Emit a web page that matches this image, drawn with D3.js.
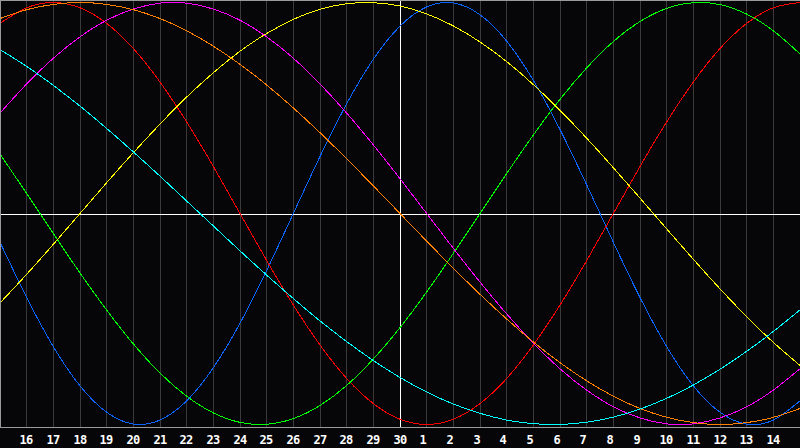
<!DOCTYPE html>
<html>
<head>
<meta charset="utf-8">
<script src="https://cdn.jsdelivr.net/npm/d3@7"></script>
<style>
  html, body { margin: 0; padding: 0; background: #060608; }
  svg { display: block; }
</style>
</head>
<body>
<svg id="chart" width="800" height="448"></svg>
<script>
// Day labels for each column index (t = 0..30)
const days = ["15","16","17","18","19","20","21","22","23","24","25","26","27","28","29","30",
              "1","2","3","4","5","6","7","8","9","10","11","12","13","14","15"];
// Tick labels shown under the chart (t = 1..29)
const tickLabels = days.slice(1, 30);

// Cycle names and colours
const cycleNames = ["Physical","Emotional","Intellectual","Intuitive","Aesthetic","Awareness","Spiritual"];
const cycleColors = ["#0a64ff","#ff0000","#00ff00","#ff00ff","#ffff00","#ff8000","#00ffff"];

// Daily values (-1 .. 1)
const physical = [-0.136,-0.398,-0.631,-0.817,-0.942,-0.998,-0.979,-0.888,-0.731,-0.520,-0.270,0,
  0.270,0.520,0.731,0.888,0.979,0.998,0.942,0.817,0.631,0.398,0.136,-0.136,-0.398,-0.631,-0.817,-0.942,-0.998,-0.979,-0.888];
const emotional = [0.901,0.975,1,0.975,0.901,0.782,0.623,0.434,0.223,0,-0.223,-0.434,-0.623,-0.782,-0.901,
  -0.975,-1,-0.975,-0.901,-0.782,-0.623,-0.434,-0.223,0,0.223,0.434,0.623,0.782,0.901,0.975,1];
const intellectual = [0.282,0.095,-0.095,-0.282,-0.458,-0.618,-0.756,-0.866,-0.945,-0.990,-0.999,-0.972,-0.910,
  -0.815,-0.690,-0.541,-0.372,-0.189,0,0.189,0.372,0.541,0.690,0.815,0.910,0.972,0.999,0.990,0.945,0.866,0.756];
const intuitive = [0.476,0.614,0.736,0.837,0.916,0.969,0.997,0.997,0.969,0.916,0.837,0.736,0.614,0.476,0.325,
  0.165,0,-0.165,-0.325,-0.476,-0.614,-0.736,-0.837,-0.916,-0.969,-0.997,-0.997,-0.969,-0.916,-0.837,-0.736];
const aesthetic = [-0.424,-0.288,-0.146,0,0.146,0.288,0.424,0.552,0.667,0.769,0.853,0.920,0.968,0.994,0.999,
  0.983,0.946,0.889,0.813,0.720,0.611,0.489,0.357,0.217,0.073,-0.073,-0.217,-0.357,-0.489,-0.611,-0.720];
const awareness = [0.924,0.966,0.991,1,0.991,0.966,0.924,0.866,0.793,0.707,0.609,0.5,0.383,0.259,0.131,0,
  -0.131,-0.259,-0.383,-0.5,-0.609,-0.707,-0.793,-0.866,-0.924,-0.966,-0.991,-1,-0.991,-0.966,-0.924];
const spiritual = [0.777,0.697,0.607,0.509,0.403,0.292,0.177,0.059,-0.059,-0.177,-0.292,-0.403,-0.509,-0.607,
  -0.697,-0.777,-0.846,-0.903,-0.947,-0.979,-0.996,-1.000,-0.989,-0.965,-0.927,-0.876,-0.813,-0.738,-0.653,-0.559,-0.457];

const seriesValues = [physical, emotional, intellectual, intuitive, aesthetic, awareness, spiritual];

// ---- layout ----
const W = 800, plotBottom = 427;
const svg = d3.select("#chart");

svg.append("rect").attr("width", W).attr("height", 448).attr("fill", "#060608");

const x = d3.scaleLinear().domain([0, days.length - 1]).range([0, W]);
const y = d3.scaleLinear().domain([-1, 1]).range([424.5, 2.5]);

const px = v => Math.floor(v) + 0.5;

// vertical grid lines
const gridIdx = d3.range(1, days.length - 1);
svg.append("g").selectAll("line").data(gridIdx).join("line")
  .attr("x1", d => px(x(d))).attr("x2", d => px(x(d)))
  .attr("y1", 0).attr("y2", plotBottom)
  .attr("stroke", d => d === 15 ? "#ffffff" : "#3a3a3a")
  .attr("stroke-width", 1)
  .attr("shape-rendering", "crispEdges");

// horizontal mid line
svg.append("line")
  .attr("x1", 0).attr("x2", W)
  .attr("y1", Math.round(y(0)) + 0.5).attr("y2", Math.round(y(0)) + 0.5)
  .attr("stroke", "#ffffff").attr("shape-rendering", "crispEdges");

// border (top, left, bottom)
svg.append("path")
  .attr("d", `M${W},0.5H0.5V${plotBottom + 0.5}H${W}`)
  .attr("fill", "none").attr("stroke", "#9a9a9a")
  .attr("shape-rendering", "crispEdges");

// curves
svg.append("defs").append("clipPath").attr("id", "plotClip")
  .append("rect").attr("x", 1).attr("y", 1).attr("width", W - 1).attr("height", plotBottom - 1);

const line = d3.line()
  .x((d, i) => x(i))
  .y(d => y(d))
  .curve(d3.curveNatural);

svg.append("g").attr("clip-path", "url(#plotClip)")
  .selectAll("path").data(seriesValues).join("path")
  .attr("d", d => line(d))
  .attr("fill", "none")
  .attr("stroke", (d, i) => cycleColors[i])
  .attr("stroke-width", 1)
  .attr("shape-rendering", "crispEdges")
  .append("title").text((d, i) => cycleNames[i]);

// day labels
svg.append("g").selectAll("text").data(tickLabels).join("text")
  .attr("x", (d, i) => Math.floor(x(i + 1)) - 6.6)
  .attr("y", 443.5)
  .attr("text-anchor", "start")
  .attr("fill", "#ffffff")
  .attr("font-family", "'DejaVu Sans Mono', monospace")
  .attr("font-weight", "bold")
  .attr("font-size", "12px")
  .attr("letter-spacing", "-0.5px")
  .text(d => d);
</script>
</body>
</html>
